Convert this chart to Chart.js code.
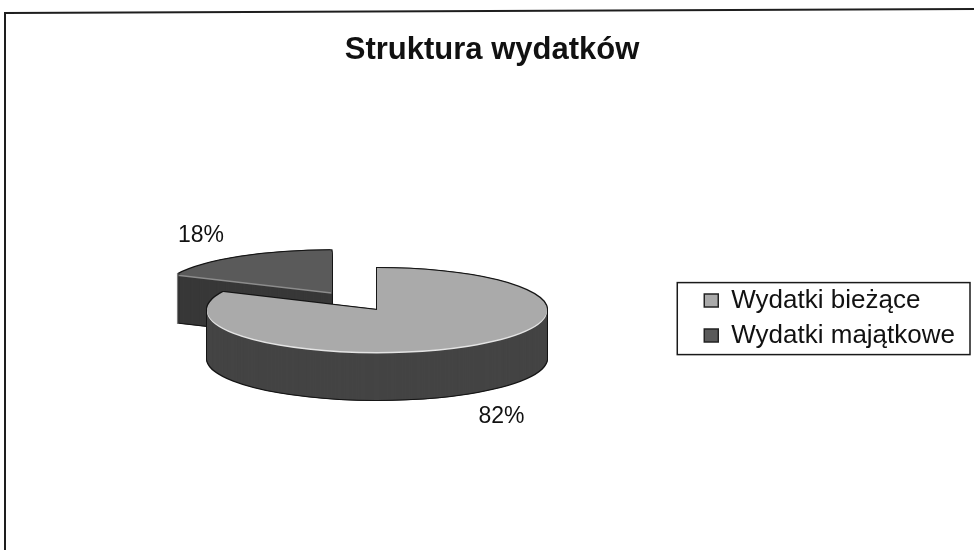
<!DOCTYPE html>
<html>
<head>
<meta charset="utf-8">
<script src="https://cdn.jsdelivr.net/npm/chart.js@4.4.1/dist/chart.umd.min.js"></script>
<style>
  html, body { margin: 0; padding: 0; background: #fff; }
  canvas { display: block; }
</style>
</head>
<body>
<canvas id="wydatkiChart" width="974" height="550"></canvas>
<script>
// chart data
const chartTitle = 'Struktura wydatków';
const categories = ['Wydatki bieżące', 'Wydatki majątkowe'];
const shares = [82, 18];

// look of the tilted 3d pie
const topColors = ['#aaaaaa', '#5a5a5a'];
const sideColors = ['#444444', '#383838'];
const rimColors = ['#e4e4e4', '#8c8c8c'];
const explode = [0, 0.5];
const pie = { x: 377, y: 310, rx: 170, ry: 42, depth: 48 };
const labelReach = 1.4;
const font = 'Arial, "Liberation Sans", sans-serif';

function paintArc(ctx, el, i, dx, dy, color) {
    const R = el.outerRadius;
    const mid = (el.startAngle + el.endAngle) / 2;
    const ex = Math.cos(mid) * explode[i] * pie.rx;
    const ey = Math.sin(mid) * explode[i] * pie.ry;
    const saved = el.options;
    el.options = Object.assign({}, saved, { backgroundColor: color, borderColor: color, borderWidth: 0, offset: 0 });
    ctx.save();
    ctx.translate(pie.x + ex + dx, pie.y + ey + dy);
    ctx.scale(pie.rx / R, pie.ry / R);
    ctx.translate(-el.x, -el.y);
    el.draw(ctx);
    ctx.restore();
    el.options = saved;
}

const pie3d = {
    id: 'pie3d',
    beforeDatasetsDraw(chart) {
        const ctx = chart.ctx;
        const arcs = chart.getDatasetMeta(0).data;
        // back slice first, front slice on top of it
        [1, 0].forEach(i => {
            const el = arcs[i];
            for (let d = -1; d <= pie.depth + 1; d++) {
                paintArc(ctx, el, i, -1, d, '#161616');
                paintArc(ctx, el, i, 1, d, '#161616');
            }
            for (let d = pie.depth; d >= 1; d--) {
                paintArc(ctx, el, i, 0, d, sideColors[i]);
            }
            paintArc(ctx, el, i, 0, 1.5, rimColors[i]);
            paintArc(ctx, el, i, 0, 0, topColors[i]);
        });
        return false;
    },
    afterDraw(chart) {
        const ctx = chart.ctx;
        const arcs = chart.getDatasetMeta(0).data;
        const total = shares.reduce((a, b) => a + b, 0);
        ctx.save();
        // percentage labels
        ctx.font = '23px ' + font;
        ctx.fillStyle = '#111';
        ctx.textAlign = 'center';
        ctx.textBaseline = 'middle';
        arcs.forEach((el, i) => {
            const mid = (el.startAngle + el.endAngle) / 2;
            const c = Math.cos(mid), s = Math.sin(mid);
            const x = pie.x + c * (explode[i] + labelReach) * pie.rx;
            const y = pie.y + s * (explode[i] + labelReach) * pie.ry + (s > 0 ? pie.depth : 0) + Math.sign(s) * 8;
            ctx.fillText(Math.round(shares[i] / total * 100) + '%', x - 3, y + 1);
        });
        // scanned page frame
        ctx.strokeStyle = '#1e1e1e';
        ctx.lineWidth = 2;
        ctx.beginPath();
        ctx.moveTo(5, 550);
        ctx.lineTo(5, 13);
        ctx.lineTo(974, 9);
        ctx.stroke();
        // legend box
        const boxes = chart.legend.legendHitBoxes;
        if (boxes && boxes.length) {
            const left = Math.min(...boxes.map(b => b.left)) - 27;
            const right = Math.max(...boxes.map(b => b.left + b.width)) + 15;
            const top = boxes[0].top - 5;
            const last = boxes[boxes.length - 1];
            const bottom = last.top + last.height + 6;
            ctx.lineWidth = 1.5;
            ctx.strokeStyle = '#1a1a1a';
            ctx.strokeRect(left, top, right - left, bottom - top);
        }
        ctx.restore();
    }
};

const ctx = document.getElementById('wydatkiChart').getContext('2d');
new Chart(ctx, {
    type: 'pie',
    data: {
        labels: categories,
        datasets: [{
            data: shares,
            backgroundColor: topColors,
            borderWidth: 0,
            hoverOffset: 0,
            clip: false
        }]
    },
    options: {
        responsive: false,
        animation: false,
        devicePixelRatio: 1,
        events: [],
        layout: { padding: { left: 19, right: 9, top: 0, bottom: 0 } },
        plugins: {
            title: {
                display: true,
                text: chartTitle,
                color: '#111',
                font: { family: font, size: 31, weight: 'bold' },
                padding: { top: 32, bottom: 17 }
            },
            legend: {
                position: 'right',
                fullSize: false,
                labels: {
                    color: '#111',
                    font: { family: font, size: 26 },
                    boxWidth: 14,
                    boxHeight: 13,
                    padding: 9,
                    generateLabels: (chart) => Chart.overrides.doughnut.plugins.legend.labels.generateLabels(chart)
                        .map(l => Object.assign(l, { strokeStyle: '#222', lineWidth: 1.5 }))
                }
            },
            tooltip: { enabled: false }
        }
    },
    plugins: [pie3d]
});
</script>
</body>
</html>
